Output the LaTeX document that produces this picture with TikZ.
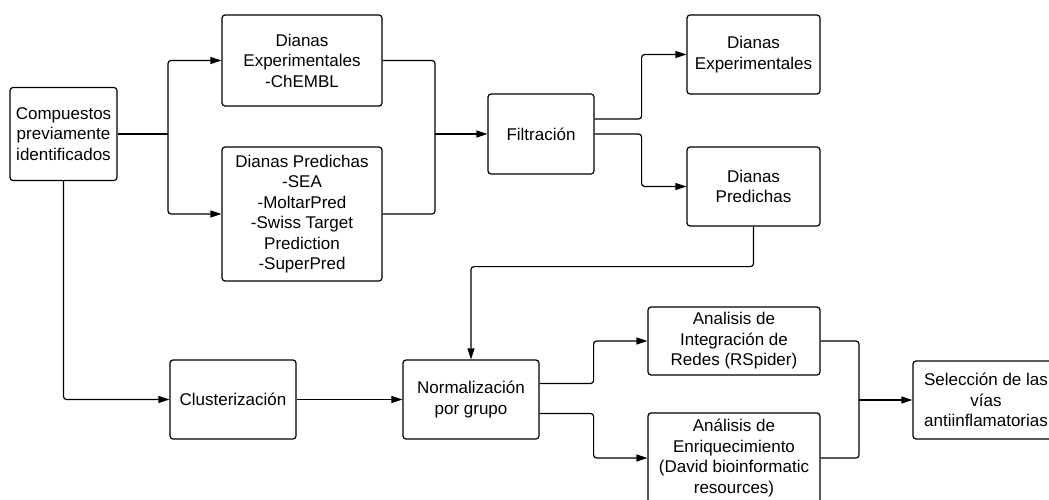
\documentclass[tikz,border=0pt]{standalone}
\usepackage{fontspec}
\setmainfont{Liberation Sans}
\usetikzlibrary{arrows.meta,positioning}

\tikzset{
  box/.style={draw,fill=white,rounded corners=3pt,line width=1.2pt,align=center,inner sep=2pt,
    font=\fontsize{17}{20.5}\selectfont},
  link/.style={line width=1.2pt,rounded corners=3pt},
  arr/.style={link,-{Triangle[length=11pt,width=7pt]}}
}

\begin{document}
\begin{tikzpicture}[x=1pt,y=-1pt]
  \useasboundingbox (0,0) rectangle (1049,500);

  \node[box,minimum width=107pt,minimum height=93pt] (comp) at (63.5,134) {Compuestos\\previamente\\identificados};
  \node[box,minimum width=160pt,minimum height=91pt] (exp) at (302,60.5) {Dianas\\Experimentales\\-ChEMBL};
  \node[box,minimum width=160pt,minimum height=134pt] (pred) at (302,214) {Dianas Predichas\\-SEA\\-MoltarPred\\-Swiss Target\\Prediction\\-SuperPred};
  \node[box,minimum width=106pt,minimum height=80pt] (filt) at (541,134) {Filtración};
  \node[box,minimum width=133pt,minimum height=79pt] (exp2) at (753.5,54.5) {Dianas\\Experimentales};
  \node[box,minimum width=133pt,minimum height=79pt] (pred2) at (753.5,186.5) {Dianas\\Predichas};
  \node[box,minimum width=126pt,minimum height=79pt] (clus) at (233,399.5) {Clusterización};
  \node[box,minimum width=136pt,minimum height=79pt] (norm) at (471,399.5) {Normalización\\por grupo};
  \node[box,minimum width=172pt,minimum height=68pt] (integ) at (734,341) {Analisis de\\Integración de\\Redes (RSpider)};
  \node[box,minimum width=172pt,minimum height=90pt] (enri) at (734,458) {Análisis de\\Enriquecimiento\\(David bioinformatic\\resources)};
  \node[box,minimum width=146pt,minimum height=78pt] (sel) at (986,400) {Selección de las\\vías\\antiinflamatorias};

  \coordinate (split) at (168,134);
  \coordinate (join) at (435,134);
  \coordinate (join2) at (859,400);

  \draw[link] (comp.east) -- (split);
  \draw[arr] (split) |- (exp.west);
  \draw[arr] (split) |- (pred.west);
  \draw[link] (exp.east) -| (join);
  \draw[link] (pred.east) -| (join);
  \draw[arr] (join) -- (filt.west);

  \draw[arr] ([yshift=15pt]filt.east) -- ++(47,0) |- (exp2.west);
  \draw[arr] (filt.east) -- ++(47,0) |- (pred2.west);

  \draw[arr] (pred2.south) -- ++(0,40) -| (norm.north);
  \draw[arr] (comp.south) |- (clus.west);
  \draw[arr] (clus.east) -- (norm.west);

  \draw[arr] ([yshift=16pt]norm.east) -- ++(54,0) |- (integ.west);
  \draw[arr] ([yshift=-14pt]norm.east) -- ++(54,0) |- (enri.west);
  \draw[link] (integ.east) -| (join2);
  \draw[link] (enri.east) -| (join2);
  \draw[arr] (join2) -- (sel.west);
\end{tikzpicture}
\end{document}
